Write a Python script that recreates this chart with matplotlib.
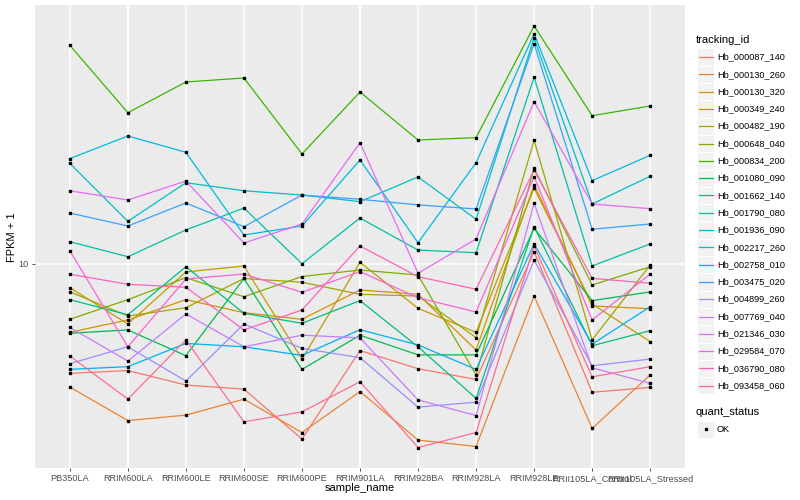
import matplotlib
matplotlib.use("Agg")
import matplotlib.pyplot as plt
import numpy as np
from matplotlib.ticker import NullLocator
from matplotlib.patches import Rectangle

plt.rcParams['font.family'] = ['Liberation Sans', 'DejaVu Sans']

samples = ['PB350LA', 'RRIM600LA', 'RRIM600LE', 'RRIM600SE', 'RRIM600PE', 'RRIM901LA',
           'RRIM928BA', 'RRIM928LA', 'RRIM928LE', 'RRII105LA_Control', 'RRII105LA_Stressed']

tracking_ids = ['Hb_000087_140', 'Hb_000130_260', 'Hb_000130_320', 'Hb_000349_240',
                'Hb_000482_190', 'Hb_000648_040', 'Hb_000834_200', 'Hb_001080_090',
                'Hb_001662_140', 'Hb_001790_080', 'Hb_001936_090', 'Hb_002217_260',
                'Hb_002758_010', 'Hb_003475_020', 'Hb_004899_260', 'Hb_007769_040',
                'Hb_021346_030', 'Hb_029584_070', 'Hb_036790_080', 'Hb_093458_060']

# ggplot hue palette, 20 levels
colors = ['#F8766D', '#EA8331', '#D89000', '#C09B00', '#A3A500', '#7CAE00', '#39B600',
          '#00BB4E', '#00BF7D', '#00C1A3', '#00BFC4', '#00BAE0', '#00B0F6', '#35A2FF',
          '#9590FF', '#C77CFF', '#E76BF3', '#FA62DB', '#FF62BC', '#FF6C91']

# FPKM + 1, one list per tracking_id (order of samples)
hb_000087_140 = [4.87, 4.96, 4.51, 4.39, 3.16, 5.66, 5.02, 4.68, 10.84, 4.30, 4.44]
hb_000130_260 = [4.45, 3.57, 3.70, 4.11, 3.30, 4.32, 3.14, 3.01, 8.10, 3.39, 4.82]
hb_000130_320 = [6.38, 6.92, 7.91, 7.26, 6.95, 8.43, 8.19, 5.68, 16.81, 7.59, 7.45]
hb_000349_240 = [8.56, 6.74, 9.49, 9.87, 5.35, 10.11, 7.47, 6.38, 16.45, 7.69, 6.00]
hb_000482_190 = [8.33, 7.10, 7.50, 9.09, 8.87, 8.19, 8.10, 6.16, 22.56, 6.07, 9.93]
hb_000648_040 = [6.95, 7.91, 9.14, 8.06, 9.21, 9.61, 9.30, 4.82, 18.77, 8.71, 9.82]
hb_000834_200 = [42.15, 27.05, 33.11, 34.0, 20.62, 31.0, 22.61, 22.96, 47.86, 26.53, 28.28]
hb_001080_090 = [6.34, 6.48, 5.47, 9.09, 5.00, 6.26, 5.50, 5.50, 12.65, 7.86, 8.32]
hb_001662_140 = [7.91, 7.16, 9.82, 7.23, 6.77, 7.86, 5.80, 4.13, 12.78, 5.84, 6.45]
hb_001790_080 = [11.58, 10.49, 12.51, 14.45, 10.02, 13.53, 10.96, 10.77, 34.16, 9.87, 11.41]
hb_001936_090 = [19.40, 13.24, 17.07, 16.19, 15.74, 15.07, 17.73, 13.42, 44.23, 14.84, 17.81]
hb_002217_260 = [20.0, 23.21, 20.85, 12.10, 12.84, 19.82, 11.50, 19.47, 45.50, 17.30, 20.44]
hb_002758_010 = [5.00, 5.09, 5.93, 5.80, 5.48, 6.49, 5.87, 5.00, 11.41, 5.90, 7.55]
hb_003475_020 = [13.98, 12.84, 14.94, 12.78, 15.74, 15.31, 14.75, 14.36, 42.59, 12.57, 13.01]
hb_004899_260 = [5.19, 5.80, 4.63, 6.74, 5.74, 5.40, 3.90, 4.03, 10.26, 5.12, 5.35]
hb_007769_040 = [6.59, 5.28, 7.20, 5.80, 6.26, 6.15, 4.09, 3.69, 14.91, 5.05, 4.56]
hb_021346_030 = [16.19, 15.23, 17.26, 11.48, 13.01, 22.21, 9.41, 11.79, 29.09, 14.84, 14.39]
hb_029584_070 = [10.91, 5.80, 9.06, 9.36, 8.30, 9.51, 8.01, 7.29, 17.76, 6.92, 9.36]
hb_036790_080 = [9.35, 8.75, 8.58, 6.48, 7.39, 11.26, 9.20, 8.47, 18.56, 9.10, 8.81]
hb_093458_060 = [5.46, 4.11, 6.07, 3.54, 3.78, 4.61, 2.99, 3.30, 11.26, 4.76, 5.09]

series = [hb_000087_140, hb_000130_260, hb_000130_320, hb_000349_240, hb_000482_190,
          hb_000648_040, hb_000834_200, hb_001080_090, hb_001662_140, hb_001790_080,
          hb_001936_090, hb_002217_260, hb_002758_010, hb_003475_020, hb_004899_260,
          hb_007769_040, hb_021346_030, hb_029584_070, hb_036790_080, hb_093458_060]

W, H = 800, 500
fig = plt.figure(figsize=(8, 5), dpi=100)
ax = fig.add_axes([35 / W, 32 / H, 650 / W, 463 / H])
ax.set_facecolor('#EBEBEB')

x = np.arange(len(samples))
for vals, col in zip(series, colors):
    ax.plot(x, vals, color=col, lw=0.9, zorder=2)
for vals in series:
    ax.plot(x, vals, linestyle='none', marker='s', color='black', ms=1.9, zorder=3)

ax.set_yscale('log')
ax.set_ylim(2.613, 54.95)
ax.set_xlim(-0.6, 10.6)
ax.set_yticks([10])
ax.set_yticklabels(['10'])
ax.yaxis.set_minor_locator(NullLocator())
ax.set_xticks(x)
ax.set_xticklabels(samples)
ax.grid(color='white', lw=1.1)
ax.set_axisbelow(True)
for s in ax.spines.values():
    s.set_visible(False)
ax.tick_params(length=2.5, width=0.6, color='#333333', labelsize=6.6,
               labelcolor='#4D4D4D', pad=2)

fig.text(360 / W, 1 - 488 / H, 'sample_name', fontsize=8, ha='center', va='center')
fig.text(12 / W, 1 - 237 / H, 'FPKM + 1', fontsize=8, ha='center', va='center', rotation=90)

# legend, drawn in pixel coordinates
lg = fig.add_axes([0, 0, 1, 1], facecolor='none')
lg.set_xlim(0, W)
lg.set_ylim(H, 0)
lg.axis('off')

lg.text(696, 40, 'tracking_id', fontsize=8, va='center', ha='left')
for i, (name, col) in enumerate(zip(tracking_ids, colors)):
    yc = 57 + i * 17.3
    lg.add_patch(Rectangle((697, yc - 8.6), 17, 17.3, facecolor='#F2F2F2',
                           edgecolor='white', lw=0.8))
    lg.plot([698.5, 712.5], [yc, yc], color=col, lw=0.9)
    lg.text(717, yc, name, fontsize=6.6, va='center', ha='left')

lg.text(696, 412, 'quant_status', fontsize=8, va='center', ha='left')
lg.add_patch(Rectangle((697, 420.5), 17, 17.3, facecolor='#F2F2F2', edgecolor='white', lw=0.8))
lg.plot([705.5], [429], marker='s', color='black', ms=1.9)
lg.text(717, 429, 'OK', fontsize=6.6, va='center', ha='left')

fig.savefig('out.png', dpi=100)
